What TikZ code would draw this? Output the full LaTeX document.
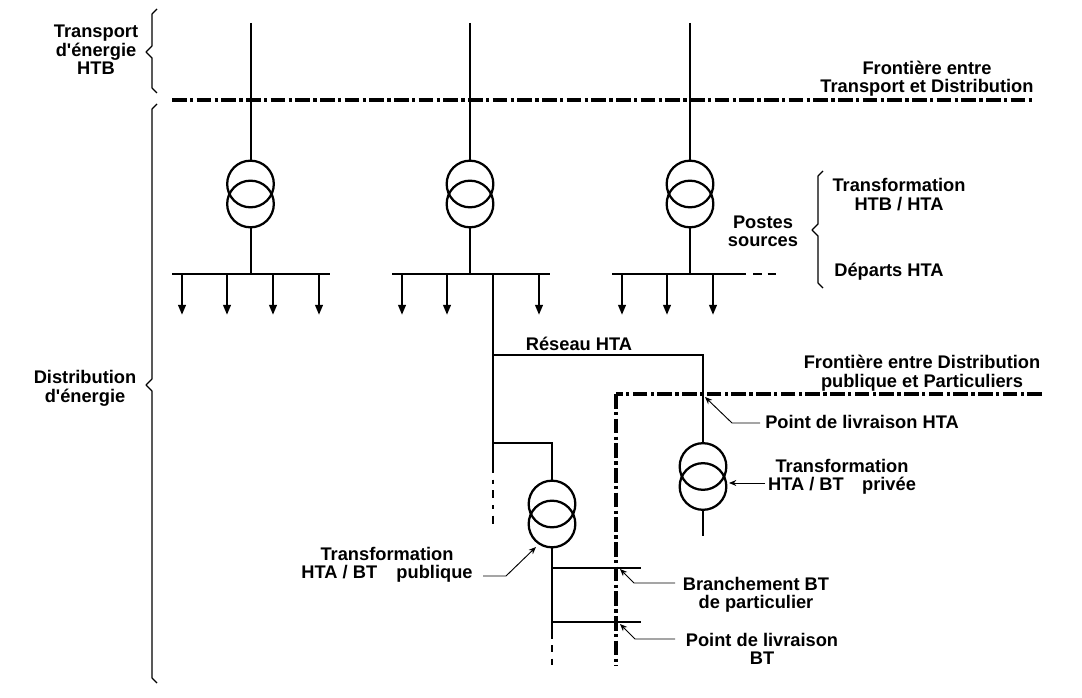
\documentclass[tikz,border=0pt]{standalone}
\usepackage{fontspec}
\setmainfont[Ligatures=TeXOff]{Liberation Sans}
\usetikzlibrary{arrows.meta}
\tikzset{
  px/.style={x=0.75pt,y=-0.75pt},
  trafo/.style={circle,draw=black,line width=1.7pt,minimum size=35pt,inner sep=0pt,outer sep=0pt},
  wire/.style={line width=1.7pt,black},
  thinwire/.style={line width=1.5pt,black},
  bus/.style={line width=2pt,black},
  outfeed/.style={line width=1.8pt,black,-{Triangle[length=7.5pt,width=5.5pt]}},
  frontier/.style={line width=2.3pt,black,dash pattern=on 11pt off 2.5pt on 2.5pt off 2.5pt},
  frontierv/.style={line width=3pt,black,dash pattern=on 11pt off 2.5pt on 2.5pt off 2.5pt},
  leader/.style={line width=0.7pt,black,-{Stealth[length=5.5pt,width=4.5pt]}},
  bracket/.style={line width=0.9pt,black,line join=round},
  lbl/.style={font=\fontsize{13.7}{13.9}\selectfont\bfseries,align=center,inner sep=0pt,anchor=center},
}
\begin{document}
\begin{tikzpicture}[px]
\useasboundingbox (0,0) rectangle (1082,698);
% transformers
\node[trafo] (a1) at (250.5,184) {}; \node[trafo] (a2) at (250.5,204) {};
\node[trafo] (b1) at (470,184) {};   \node[trafo] (b2) at (470,204) {};
\node[trafo] (c1) at (690,184) {};   \node[trafo] (c2) at (690,204) {};
\node[trafo] (pu1) at (552,504) {};  \node[trafo] (pu2) at (552,524) {};
\node[trafo] (pr1) at (703,466.5) {};\node[trafo] (pr2) at (703,486.5) {};
% HTB lines and tops
\coordinate (at) at (250.5,23); \coordinate (bt) at (470,23); \coordinate (ct) at (690,23);
\coordinate (ab) at (250.5,274); \coordinate (bb) at (470,274); \coordinate (cb) at (690,274);
\draw[thinwire] (at) -- (a1.north);
\draw[wire] (bt) -- (b1.north);
\draw[wire] (ct) -- (c1.north);
\draw[thinwire] (a2.south) -- (ab);
\draw[wire] (b2.south) -- (bb);
\draw[wire] (c2.south) -- (cb);
% busbars
\coordinate (al) at (172,274); \coordinate (ar) at (330,274);
\coordinate (bl) at (392,274); \coordinate (br) at (550,274);
\coordinate (cl) at (612,274); \coordinate (cr) at (746,274); \coordinate (cd) at (780,274);
\draw[bus] (al) -- (ar); \draw[bus] (bl) -- (br); \draw[bus] (cl) -- (cr);
\draw[line width=1.4pt,dash pattern=on 6.5pt off 4.5pt] (cr) ++(7,0) -- (cd);
% outfeeds
\foreach \n/\x in {a/182,b/227,c/273,d/319,e/402,f/447,g/539,h/622,i/667,j/713}{
  \coordinate (s\n) at (\x,274); \coordinate (e\n) at (\x,315);
  \draw[outfeed] (s\n) -- (e\n);
}
% HTA network
\coordinate (n0) at (493,274); \coordinate (n1) at (493,355); \coordinate (n2) at (703,355);
\coordinate (n3) at (493,443); \coordinate (n4) at (552,443); \coordinate (n5) at (493,465);
\coordinate (n6) at (493,528);
\draw[wire] (n0) -- (n5);
\draw[wire] (n1) -- (n2) -- (pr1.north);
\draw[wire] (n3) -- (n4) -- (pu1.north);
\draw[line width=1.6pt,dash pattern=on 6pt off 5pt on 3pt off 5pt] (n5) -- (n6);
\coordinate (p1) at (703,536);
\draw[wire] (pr2.south) -- (p1);
% BT network
\coordinate (m1) at (552,568); \coordinate (m2) at (552,622); \coordinate (m3) at (552,632); \coordinate (m4) at (552,666);
\coordinate (m1e) at (641,568); \coordinate (m2e) at (641,622);
\draw[wire] (pu2.south) -- (m3);
\draw[wire] (m1) -- (m1e); \draw[wire] (m2) -- (m2e);
\draw[line width=1.6pt,dash pattern=on 5pt off 5pt] (m3) -- (m4);
% frontiers
\coordinate (f1) at (172,100); \coordinate (f2) at (1035,100);
\draw[frontier] (f1) -- (f2);
\coordinate (g1) at (1042,394); \coordinate (g2) at (616,394); \coordinate (g3) at (616,666);
\draw[frontier] (g1) -- (g2);
\draw[frontierv] (g2) -- (g3);
% brackets
\draw[bracket] (157,9) -- (152,14) -- (152,46) -- (146,52) -- (152,58) -- (152,88) -- (157,93);
\draw[bracket] (157,104) -- (152,109) -- (152,379) -- (146,385) -- (152,391) -- (152,678) -- (157,683);
\draw[bracket] (823,171) -- (818,176) -- (818,224) -- (812,230) -- (818,236) -- (818,283) -- (823,288);
% texts
\node[lbl] (t1) at (96,50) {Transport\\d'énergie\\HTB};
\node[lbl] (t2) at (85,388.5) {Distribution\\d'énergie};
\node[lbl] (t3) at (927,78.5) {Frontière entre\\Transport et Distribution};
\node[lbl] (t4) at (899,194.5) {Transformation\\HTB / HTA};
\node[lbl] (t5) at (763,231.5) {Postes\\sources};
\node[lbl] (t6) at (889,272) {Départs HTA};
\node[lbl] (t7) at (579,344) {Réseau HTA};
\node[lbl] (t8) at (922,373) {Frontière entre Distribution\\publique et Particuliers};
\node[lbl] (t9) at (862,422) {Point de livraison HTA};
\node[lbl] (t10) at (842,477) {Transformation\\HTA / BT\enspace\enspace privée};
\node[lbl] (t11) at (387,565) {Transformation\\HTA / BT\enspace\ \ publique};
\node[lbl] (t12) at (756,595) {Branchement BT\\de particulier};
\node[lbl] (t13) at (762,649) {Point de livraison\\BT};
% leaders
\coordinate (l1a) at (705,397); \coordinate (l1b) at (732,423); \coordinate (l1c) at (760,423);
\draw[leader] (l1c) -- (l1b) -- (l1a);
\coordinate (l2a) at (729,483); \coordinate (l2c) at (765,483);
\draw[leader] (l2c) -- (l2a);
\coordinate (l3a) at (536,547); \coordinate (l3b) at (506,576); \coordinate (l3c) at (483,576);
\draw[leader] (l3c) -- (l3b) -- (l3a);
\coordinate (l4a) at (620,569); \coordinate (l4b) at (634,583); \coordinate (l4c) at (675,583);
\draw[leader] (l4c) -- (l4b) -- (l4a);
\coordinate (l5a) at (620,624); \coordinate (l5b) at (635,639); \coordinate (l5c) at (675,639);
\draw[leader] (l5c) -- (l5b) -- (l5a);
\end{tikzpicture}
\end{document}
